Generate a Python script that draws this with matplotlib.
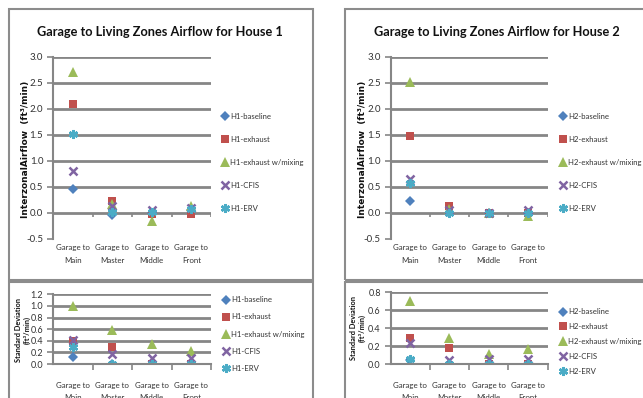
import matplotlib.pyplot as plt
from matplotlib.patches import Rectangle

W, H = 643, 398

categories = ["Garage to\nMain", "Garage to\nMaster", "Garage to\nMiddle", "Garage to\nFront"]
series_names = ["baseline", "exhaust", "exhaust w/mixing", "CFIS", "ERV"]

# House 1 mean interzonal airflow (ft3/min)
h1_baseline = [0.46, -0.05, 0.00, 0.05]
h1_exhaust = [2.10, 0.23, -0.02, -0.03]
h1_mixing = [2.70, 0.17, -0.15, 0.12]
h1_cfis = [0.81, 0.12, 0.05, 0.10]
h1_erv = [1.52, 0.02, 0.01, 0.07]

# House 2 mean interzonal airflow (ft3/min)
h2_baseline = [0.22, 0.00, 0.00, 0.00]
h2_exhaust = [1.47, 0.12, 0.00, 0.00]
h2_mixing = [2.52, 0.08, 0.00, -0.07]
h2_cfis = [0.65, 0.05, 0.00, 0.05]
h2_erv = [0.58, -0.01, 0.00, 0.00]

# House 1 standard deviation
h1_sd_baseline = [0.12, 0.00, 0.00, 0.00]
h1_sd_exhaust = [0.40, 0.29, 0.00, 0.00]
h1_sd_mixing = [1.00, 0.58, 0.35, 0.23]
h1_sd_cfis = [0.42, 0.18, 0.11, 0.11]
h1_sd_erv = [0.29, 0.00, 0.00, 0.00]

# House 2 standard deviation
h2_sd_baseline = [0.05, 0.00, 0.00, 0.00]
h2_sd_exhaust = [0.29, 0.18, 0.00, 0.00]
h2_sd_mixing = [0.70, 0.29, 0.11, 0.17]
h2_sd_cfis = [0.23, 0.05, 0.06, 0.06]
h2_sd_erv = [0.06, 0.00, 0.00, 0.00]

colors = ["#4F81BD", "#C0504D", "#9BBB59", "#8064A2", "#4BACC6"]
markers = ["D", "s", "^", "x", (6, 2, 0)]
sizes = [5, 6, 7, 6, 6.5]

plt.rcParams["font.family"] = ["Lato", "DejaVu Sans"]
GRID = "#868686"
TEXT = "#333333"


def box(l, t, r, b):
    return [l / W, 1 - b / H, (r - l) / W, (b - t) / H]


def scatter_panel(ax, series, prefix, ylim, step, sd=False):
    for vals, name, c, m, s in zip(series, series_names, colors, markers, sizes):
        filled = m != "x" and not isinstance(m, tuple)
        ax.plot(range(len(categories)), vals, linestyle="none", marker=m, markersize=s,
                color=c, markeredgewidth=0 if filled else 1.8, label=f"{prefix}-{name}")
    ax.set_xlim(-0.5, 3.5)
    ax.set_ylim(*ylim)
    n = int(round((ylim[1] - ylim[0]) / step))
    ticks = [ylim[0] + i * step for i in range(n + 1)]
    ax.set_yticks(ticks)
    ax.set_yticklabels([f"{t:.1f}" for t in ticks], fontsize=6.5 if sd else 7, color=TEXT)
    ax.set_xticks(range(len(categories)))
    ax.set_xticklabels(categories, fontsize=5.7, color=TEXT, linespacing=1.9)
    ax.set_xticks([0.5, 1.5, 2.5, 3.5], minor=True)
    for side in ("top", "right"):
        ax.spines[side].set_visible(False)
    ax.spines["left"].set_color(GRID)
    ax.spines["left"].set_linewidth(1.5)
    ax.tick_params(axis="y", length=4, width=1.2, color=GRID, pad=3)
    ax.tick_params(axis="x", which="major", length=0)
    ax.yaxis.grid(True, color=GRID, linewidth=2)
    ax.set_axisbelow(True)
    if sd:
        ax.spines["bottom"].set_color(GRID)
        ax.spines["bottom"].set_linewidth(1.5)
        ax.tick_params(axis="x", which="major", pad=12.8)
        ax.tick_params(axis="x", which="minor", length=4, width=1.2, color=GRID)
    else:
        ax.spines["bottom"].set_visible(False)
        ax.get_ygridlines()[0].set_visible(False)
        ax.tick_params(axis="x", which="minor", length=0)
        ax.tick_params(axis="x", which="major", pad=4)
        ax.vlines([0.5, 1.5, 2.5, 3.5], -0.08, 0, color=GRID, linewidth=1.2)
    ax.patch.set_alpha(0)


def legend(ax, x, yc, spacing):
    leg = ax.legend(loc="center left", bbox_to_anchor=(x / W, 1 - yc / H),
                    bbox_transform=fig.transFigure, frameon=False, borderpad=0,
                    handlelength=0.9, handletextpad=0.2, labelspacing=spacing,
                    prop={"size": 5.6})
    for t in leg.get_texts():
        t.set_color(TEXT)


fig = plt.figure(figsize=(W / 100, H / 100), dpi=100)

# chart area borders
for l, t, r, b in [(9, 9, 313, 280), (345, 9, 660, 280), (9, 282, 313, 420), (345, 282, 660, 420)]:
    fig.patches.append(Rectangle((l / W, 1 - b / H), (r - l) / W, (b - t) / H,
                                 transform=fig.transFigure, fill=False,
                                 edgecolor="#8c8c8c", linewidth=1.5))

ax1 = fig.add_axes(box(53, 56.7, 211, 238.7))
scatter_panel(ax1, [h1_baseline, h1_exhaust, h1_mixing, h1_cfis, h1_erv], "H1", (-0.5, 3.0), 0.5)
legend(ax1, 218, 162.5, 2.05)

ax2 = fig.add_axes(box(390.5, 56.7, 547.5, 238.7))
scatter_panel(ax2, [h2_baseline, h2_exhaust, h2_mixing, h2_cfis, h2_erv], "H2", (-0.5, 3.0), 0.5)
legend(ax2, 555.5, 162.5, 2.05)

ax3 = fig.add_axes(box(53, 294.3, 211, 364))
scatter_panel(ax3, [h1_sd_baseline, h1_sd_exhaust, h1_sd_mixing, h1_sd_cfis, h1_sd_erv], "H1",
              (0.0, 1.2), 0.2, sd=True)
legend(ax3, 218.5, 334, 1.3)

ax4 = fig.add_axes(box(390.5, 292.3, 547.5, 364))
scatter_panel(ax4, [h2_sd_baseline, h2_sd_exhaust, h2_sd_mixing, h2_sd_cfis, h2_sd_erv], "H2",
              (0.0, 0.8), 0.2, sd=True)
legend(ax4, 555.5, 341.5, 1.0)

for x, n in [(160, 1), (496.5, 2)]:
    fig.text(x / W, 1 - 32 / H, f"Garage to Living Zones Airflow for House {n}",
             ha="center", va="center", fontsize=9.2, fontweight="bold", color="#111111")

for x in (26, 362.5):
    fig.text(x / W, 1 - 149 / H, "InterzonalAirflow  (ft³/min)", rotation=90,
             ha="center", va="center", fontsize=6.5, fontweight="bold",
             family=["DejaVu Sans"], color="#111111")

for x, yc in [(23, 330), (358, 328)]:
    fig.text(x / W, 1 - yc / H, "Standard Deviation\n(ft³/min)", rotation=90,
             ha="center", va="center", fontsize=5.3, fontweight="bold",
             linespacing=1.15, color="#111111")

fig.savefig("out.png", dpi=100)
